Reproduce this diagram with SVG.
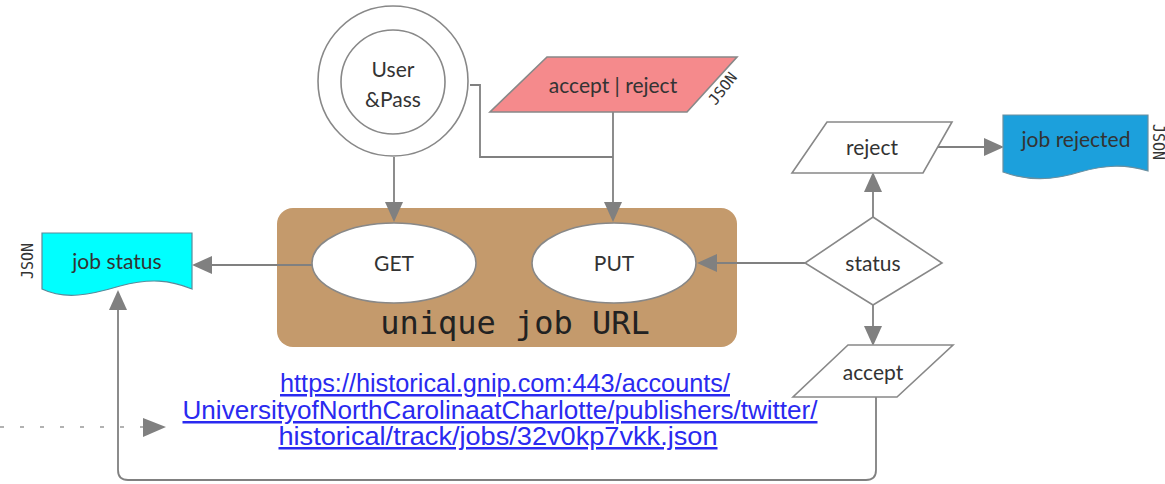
<svg xmlns="http://www.w3.org/2000/svg" width="1165" height="484" viewBox="0 0 1165 484">
<defs>
<style>
.lbl{font-family:Lato,"Liberation Sans",sans-serif;font-size:21px;fill:#333;text-anchor:middle}
.json{font-family:"DejaVu Sans Mono","Liberation Mono",monospace;font-size:15px;fill:#333;text-anchor:middle}
.shape{stroke:#888;stroke-width:1.6;fill:#fff}
.conn{stroke:#808080;stroke-width:1.8;fill:none}
.url{font-family:"Liberation Sans",Arial,sans-serif;font-size:25px;fill:#2a2af0;text-anchor:middle;text-decoration:underline}
</style>
<marker id="ahb" viewBox="0 0 10 10" refX="9" refY="5" markerWidth="20" markerHeight="18" markerUnits="userSpaceOnUse" orient="auto" preserveAspectRatio="none">
<path d="M0,0 L10,5 L0,10 Z" fill="#808080"/>
</marker>
</defs>
<rect width="1165" height="484" fill="#fff"/>

<g id="jobURL">
<rect x="277" y="208" width="460" height="139" rx="16" fill="#C49A6C"/>
<text x="515" y="334" font-family="'DejaVu Sans Mono','Liberation Mono',monospace" font-size="32" fill="#222" text-anchor="middle">unique job URL</text>
</g>

<g id="connectors">
<path class="conn" d="M394,157 V220" marker-end="url(#ahb)"/>
<path class="conn" d="M470,85 H480 V157 H613"/>
<path class="conn" d="M613,112 V220" marker-end="url(#ahb)"/>
<path class="conn" d="M312,265 H194" marker-end="url(#ahb)"/>
<path class="conn" d="M805,263 H699" marker-end="url(#ahb)"/>
<path class="conn" d="M873,217 V174" marker-end="url(#ahb)"/>
<path class="conn" d="M924,147 H1002" marker-end="url(#ahb)"/>
<path class="conn" d="M873,305 V344" marker-end="url(#ahb)"/>
<path class="conn" d="M876,397 V470 Q876,480 866,480 H128 Q118,480 118,470 V292" marker-end="url(#ahb)"/>
<path d="M0,427 H145" stroke="#999" stroke-width="1.6" stroke-dasharray="4,16" fill="none"/>
<path d="M143,418 L166,427 L143,437 Z" fill="#808080"/>
</g>

<g id="userpass">
<circle class="shape" cx="393" cy="81" r="75"/>
<circle class="shape" cx="393" cy="82" r="52"/>
<text class="lbl" x="393" y="77">User</text>
<text class="lbl" x="393" y="107">&amp;Pass</text>
</g>

<g id="acceptReject">
<polygon points="547,57 737,57 687,112 490,112" fill="#F58A8C" stroke="#888" stroke-width="1.6"/>
<text class="lbl" x="613" y="93">accept | reject</text>
<text class="json" font-size="17" transform="translate(722,88) rotate(-52)" y="6">JSON</text>
</g>

<g id="get">
<ellipse class="shape" cx="394" cy="263" rx="82" ry="40"/>
<text class="lbl" x="394" y="271" font-size="19">GET</text>
</g>

<g id="put">
<ellipse class="shape" cx="614" cy="263" rx="82" ry="40"/>
<text class="lbl" x="614" y="271" font-size="19">PUT</text>
</g>

<g id="jobStatus">
<path d="M42,233 H192 V289 C170,280 150,278 120,286 C90,295 65,300 42,289 Z" fill="#00FFFF" stroke="#5a8a9a" stroke-width="1.2"/>
<text class="lbl" x="117" y="269">job status</text>
<text class="json" transform="translate(28,261) rotate(-90)" y="5">JSON</text>
</g>

<g id="status">
<polygon class="shape" points="873,217 942,263 873,305 805,263"/>
<text class="lbl" x="873" y="271">status</text>
</g>

<g id="reject">
<polygon class="shape" points="827,122 952,122 923,173 792,173"/>
<text class="lbl" x="872" y="155">reject</text>
</g>

<g id="accept">
<polygon class="shape" points="848,345 953,345 897,397 793,397"/>
<text class="lbl" x="873" y="380">accept</text>
</g>

<g id="jobRejected">
<path d="M1003,115 H1148 V171 C1125,164 1105,165 1080,172 C1055,180 1030,182 1003,172 Z" fill="#1CA0DC" stroke="#6a8fa0" stroke-width="1.2"/>
<text class="lbl" x="1076" y="147">job rejected</text>
<text class="json" font-size="14" transform="translate(1153,142) rotate(90)">JSON</text>
</g>

<g id="url">
<text class="url" x="505" y="392" textLength="450" lengthAdjust="spacingAndGlyphs">https://historical.gnip.com:443/accounts/</text>
<text class="url" x="500" y="419" textLength="635" lengthAdjust="spacingAndGlyphs">UniversityofNorthCarolinaatCharlotte/publishers/twitter/</text>
<text class="url" x="498" y="445" textLength="439" lengthAdjust="spacingAndGlyphs">historical/track/jobs/32v0kp7vkk.json</text>
</g>
</svg>
